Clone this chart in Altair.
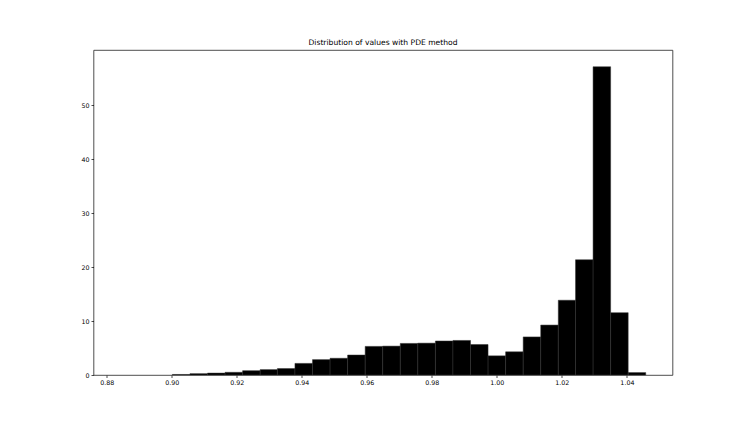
import altair as alt
import pandas as pd

# Histogram bin edges (30 bins) and density heights
bin_edges = [0.8840, 0.8894, 0.8948, 0.9002, 0.9056, 0.9110, 0.9164, 0.9218,
             0.9272, 0.9325, 0.9379, 0.9433, 0.9487, 0.9541, 0.9595, 0.9649,
             0.9703, 0.9757, 0.9811, 0.9865, 0.9919, 0.9973, 1.0027, 1.0081,
             1.0135, 1.0189, 1.0242, 1.0296, 1.0350, 1.0404, 1.0458]
heights = [0.0, 0.0, 0.0, 0.1, 0.25, 0.35, 0.5, 0.8, 1.0, 1.2,
           2.15, 2.85, 3.1, 3.7, 5.3, 5.35, 5.85, 5.9, 6.3, 6.4,
           5.65, 3.55, 4.3, 7.05, 9.25, 13.85, 21.35, 57.1, 11.55, 0.45]

x_ticks = [0.88, 0.90, 0.92, 0.94, 0.96, 0.98, 1.00, 1.02, 1.04]
y_ticks = [0, 10, 20, 30, 40, 50]
x_domain = [0.87594, 1.05403]
y_domain = [0, 60.2]

df = pd.DataFrame({
    "start": bin_edges[:-1],
    "end": bin_edges[1:],
    "density": heights,
})

FONT = "DejaVu Sans"

chart = alt.Chart(df).transform_filter(
    alt.datum.density > 0
).mark_rect(
    color="black", stroke="#333333", strokeWidth=0.5
).encode(
    x=alt.X("start:Q",
            scale=alt.Scale(domain=x_domain, nice=False, zero=False),
            axis=alt.Axis(values=x_ticks, format=".2f", title=None, grid=False,
                          labelFont=FONT, labelFontSize=6.3, labelColor="black",
                          tickColor="black", tickSize=2.5, tickWidth=0.7,
                          labelPadding=1.5, domain=False, labelFlush=False)),
    x2="end:Q",
    y=alt.Y("density:Q",
            scale=alt.Scale(domain=y_domain, nice=False),
            axis=alt.Axis(values=y_ticks, title=None, grid=False,
                          labelFont=FONT, labelFontSize=6.3, labelColor="black",
                          tickColor="black", tickSize=2.5, tickWidth=0.7,
                          labelPadding=2, domain=False)),
    y2=alt.datum(0),
).properties(
    width=579,
    height=325,
    title=alt.TitleParams("Distribution of values with PDE method",
                          font=FONT, fontSize=7.6, fontWeight="normal",
                          color="black", offset=3),
    autosize=alt.AutoSizeParams(type="none"),
    padding={"left": 85.5, "top": 42, "right": 60, "bottom": 40},
).configure_view(
    stroke="#222", strokeWidth=0.8
)

chart.save("out.html", embed_options={"renderer": "svg", "actions": False})
